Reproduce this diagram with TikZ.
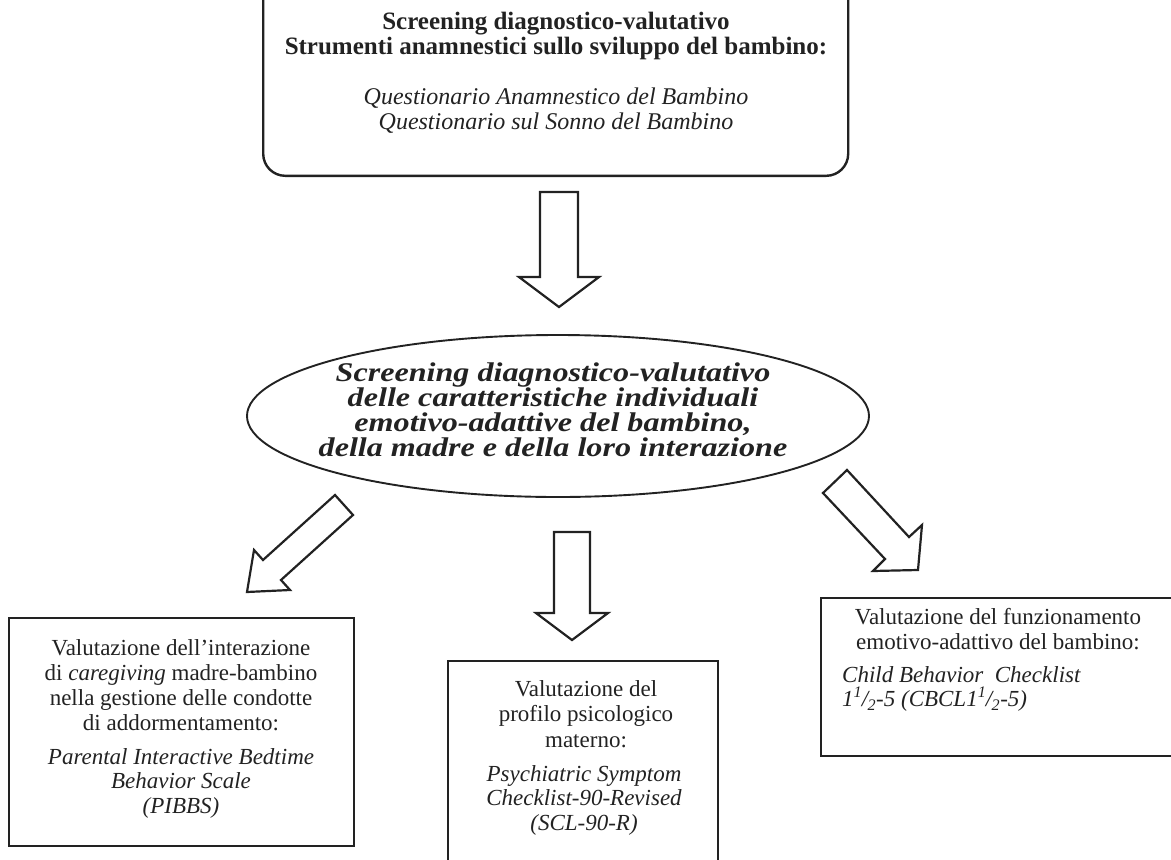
\documentclass[tikz,border=0pt]{standalone}
\usepackage{fontspec}
\setmainfont{Liberation Serif}
\newfontfamily\ellfont[FakeStretch=1.19]{Liberation Serif}
\usetikzlibrary{shapes.geometric}
\definecolor{ink}{HTML}{222222}
\tikzset{
  boxline/.style={draw=ink, line width=2.4pt},
  blockarrow/.style={draw=ink, line width=2.2pt, fill=white, line join=miter},
  txt/.style={text=ink, align=center, inner sep=0pt},
  boxtxt/.style={txt, font=\fontsize{23}{25.2}\selectfont},
  boxital/.style={txt, font=\itshape\fontsize{23}{24.5}\selectfont},
}
\newcommand{\onehalf}{1\textsuperscript{1}\kern-0.5pt/\kern-0.5pt\textsubscript{2}}
\begin{document}
\begin{tikzpicture}[x=1pt,y=-1pt]
\useasboundingbox (0,0) rectangle (1171,860);
\clip (0,0) rectangle (1171,860);
% top box
\node[boxline, rounded corners=22pt, minimum width=585pt, minimum height=200pt, anchor=south west] (topbox) at (262,177) {};
\node[txt, font=\bfseries\fontsize{25}{25}\selectfont] (toptitle) at (556,36) {Screening diagnostico-valutativo\\Strumenti anamnestici sullo sviluppo del bambino:};
\node[txt, font=\itshape\fontsize{24}{25}\selectfont] (toplist) at (556,111) {Questionario Anamnestico del Bambino\\Questionario sul Sonno del Bambino};
% ellipse
\node[ellipse, draw=ink, line width=1.9pt, minimum width=622pt, minimum height=162pt] (ell) at (558,416) {};
\node[txt, font=\ellfont\bfseries\itshape\fontsize{27}{25}\selectfont] (elltext) at (553,410) {Screening diagnostico-valutativo\\delle caratteristiche individuali\\emotivo-adattive del bambino,\\della madre e della loro interazione};
% boxes
\node[boxline, minimum width=345pt, minimum height=228pt, anchor=north west] (lbox) at (8,617) {};
\node[boxtxt] (ltext) at (181,685) {Valutazione dell'interazione\\di \textit{caregiving} madre-bambino\\nella gestione delle condotte\\di addormentamento:};
\node[boxital] (litalic) at (181,783) {Parental Interactive Bedtime\\Behavior Scale\\(PIBBS)};
\node[boxline, minimum width=270pt, minimum height=220pt, anchor=north west] (mbox) at (447,660) {};
\node[boxtxt] (mtext) at (586,714) {Valutazione del\\profilo psicologico\\materno:};
\node[boxital] (mitalic) at (584,800) {Psychiatric Symptom\\Checklist-90-Revised\\(SCL-90-R)};
\node[boxline, minimum width=370pt, minimum height=158pt, anchor=north west] (rbox) at (820,597) {};
\node[boxtxt] (rtext) at (998,629) {Valutazione del funzionamento\\emotivo-adattivo del bambino:};
\node[boxital, align=left, anchor=west] (ritalic) at (842,689) {Child Behavior\ \ Checklist\\\onehalf-5 (CBCL\onehalf-5)};
% block arrows
\draw[blockarrow] (540,192) -- (578,192) -- (578,277) -- (599,277) -- (559,307) -- (519,277) -- (540,277) -- cycle;
\draw[blockarrow] (554,532) -- (590,532) -- (590,613) -- (608,613) -- (572,640) -- (536,613) -- (554,613) -- cycle;
\draw[blockarrow] (335,495) -- (263,560) -- (254,550) -- (247,592) -- (290,590) -- (281,580) -- (353,515) -- cycle;
\draw[blockarrow] (823,493) -- (885,559) -- (873,571) -- (918,570) -- (922,525) -- (909,537) -- (847,470) -- cycle;
\end{tikzpicture}
\end{document}
